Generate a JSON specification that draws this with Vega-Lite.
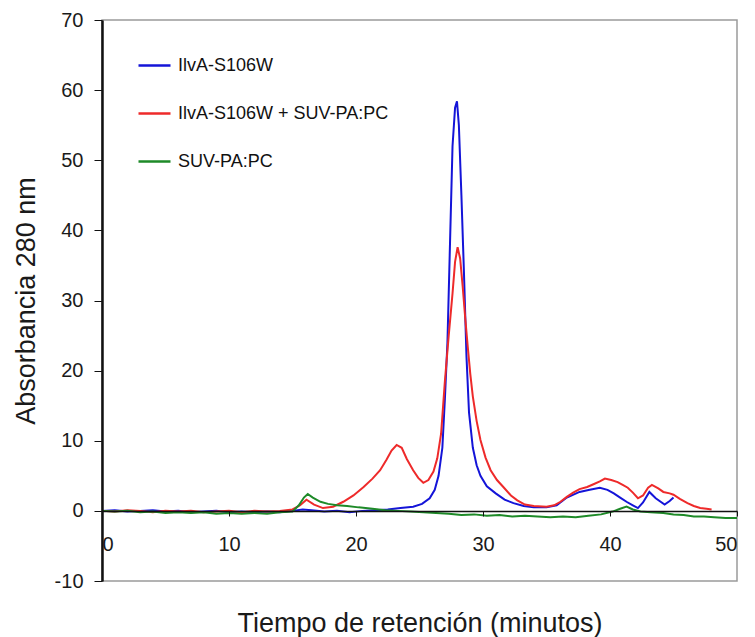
{
  "$schema": "https://vega.github.io/schema/vega-lite/v6.json",
  "width": 635,
  "height": 561,
  "autosize": {"type": "none"},
  "padding": {"left": 102, "top": 20, "right": 18, "bottom": 56},
  "background": "white",
  "config": {
    "font": "Liberation Sans",
    "view": {"stroke": "#9a9a9a", "strokeWidth": 1.5}
  },
  "data": {
    "values": [
      {"serie": "IlvA-S106W", "t": 0, "a": 0}, {"serie": "IlvA-S106W", "t": 1, "a": 0.1}, {"serie": "IlvA-S106W", "t": 2, "a": -0.1}, {"serie": "IlvA-S106W", "t": 3, "a": 0},
      {"serie": "IlvA-S106W", "t": 4, "a": 0.1}, {"serie": "IlvA-S106W", "t": 5, "a": -0.1}, {"serie": "IlvA-S106W", "t": 6, "a": 0}, {"serie": "IlvA-S106W", "t": 7, "a": -0.2},
      {"serie": "IlvA-S106W", "t": 8, "a": -0.1}, {"serie": "IlvA-S106W", "t": 9, "a": 0}, {"serie": "IlvA-S106W", "t": 10, "a": -0.2}, {"serie": "IlvA-S106W", "t": 11, "a": -0.1},
      {"serie": "IlvA-S106W", "t": 12, "a": -0.2}, {"serie": "IlvA-S106W", "t": 13, "a": -0.1}, {"serie": "IlvA-S106W", "t": 14, "a": -0.2}, {"serie": "IlvA-S106W", "t": 15, "a": 0},
      {"serie": "IlvA-S106W", "t": 15.8, "a": 0.2}, {"serie": "IlvA-S106W", "t": 16.5, "a": 0.1}, {"serie": "IlvA-S106W", "t": 17.5, "a": -0.1}, {"serie": "IlvA-S106W", "t": 18.5, "a": 0},
      {"serie": "IlvA-S106W", "t": 19.5, "a": -0.2}, {"serie": "IlvA-S106W", "t": 20.5, "a": 0}, {"serie": "IlvA-S106W", "t": 21.5, "a": 0.1}, {"serie": "IlvA-S106W", "t": 22.5, "a": 0.2},
      {"serie": "IlvA-S106W", "t": 23.5, "a": 0.4}, {"serie": "IlvA-S106W", "t": 24.5, "a": 0.6}, {"serie": "IlvA-S106W", "t": 25.2, "a": 1}, {"serie": "IlvA-S106W", "t": 25.8, "a": 1.8},
      {"serie": "IlvA-S106W", "t": 26.2, "a": 3}, {"serie": "IlvA-S106W", "t": 26.5, "a": 5}, {"serie": "IlvA-S106W", "t": 26.8, "a": 9}, {"serie": "IlvA-S106W", "t": 27.0, "a": 16},
      {"serie": "IlvA-S106W", "t": 27.2, "a": 24}, {"serie": "IlvA-S106W", "t": 27.4, "a": 38}, {"serie": "IlvA-S106W", "t": 27.6, "a": 52}, {"serie": "IlvA-S106W", "t": 27.8, "a": 57.5},
      {"serie": "IlvA-S106W", "t": 27.95, "a": 58.4}, {"serie": "IlvA-S106W", "t": 28.1, "a": 55}, {"serie": "IlvA-S106W", "t": 28.3, "a": 45}, {"serie": "IlvA-S106W", "t": 28.5, "a": 34},
      {"serie": "IlvA-S106W", "t": 28.7, "a": 22}, {"serie": "IlvA-S106W", "t": 28.9, "a": 14}, {"serie": "IlvA-S106W", "t": 29.2, "a": 9}, {"serie": "IlvA-S106W", "t": 29.5, "a": 6.5},
      {"serie": "IlvA-S106W", "t": 29.8, "a": 5}, {"serie": "IlvA-S106W", "t": 30.3, "a": 3.5}, {"serie": "IlvA-S106W", "t": 31, "a": 2.5}, {"serie": "IlvA-S106W", "t": 31.7, "a": 1.6},
      {"serie": "IlvA-S106W", "t": 32.4, "a": 1.1}, {"serie": "IlvA-S106W", "t": 33.2, "a": 0.7}, {"serie": "IlvA-S106W", "t": 34, "a": 0.5}, {"serie": "IlvA-S106W", "t": 35, "a": 0.5},
      {"serie": "IlvA-S106W", "t": 35.8, "a": 0.8}, {"serie": "IlvA-S106W", "t": 36.6, "a": 1.9}, {"serie": "IlvA-S106W", "t": 37.6, "a": 2.7}, {"serie": "IlvA-S106W", "t": 38.4, "a": 3},
      {"serie": "IlvA-S106W", "t": 39.2, "a": 3.3}, {"serie": "IlvA-S106W", "t": 39.8, "a": 3}, {"serie": "IlvA-S106W", "t": 40.3, "a": 2.5}, {"serie": "IlvA-S106W", "t": 40.8, "a": 1.9},
      {"serie": "IlvA-S106W", "t": 41.3, "a": 1.3}, {"serie": "IlvA-S106W", "t": 41.8, "a": 0.8}, {"serie": "IlvA-S106W", "t": 42.2, "a": 0.4}, {"serie": "IlvA-S106W", "t": 42.6, "a": 1.2},
      {"serie": "IlvA-S106W", "t": 43.1, "a": 2.7}, {"serie": "IlvA-S106W", "t": 43.6, "a": 1.8}, {"serie": "IlvA-S106W", "t": 44.3, "a": 0.9}, {"serie": "IlvA-S106W", "t": 44.7, "a": 1.4},
      {"serie": "IlvA-S106W", "t": 45.0, "a": 1.9},

      {"serie": "IlvA-S106W + SUV-PA:PC", "t": 0, "a": 0}, {"serie": "IlvA-S106W + SUV-PA:PC", "t": 1, "a": -0.1}, {"serie": "IlvA-S106W + SUV-PA:PC", "t": 2, "a": 0.1}, {"serie": "IlvA-S106W + SUV-PA:PC", "t": 3, "a": 0},
      {"serie": "IlvA-S106W + SUV-PA:PC", "t": 4, "a": -0.2}, {"serie": "IlvA-S106W + SUV-PA:PC", "t": 5, "a": 0}, {"serie": "IlvA-S106W + SUV-PA:PC", "t": 6, "a": -0.1}, {"serie": "IlvA-S106W + SUV-PA:PC", "t": 7, "a": 0},
      {"serie": "IlvA-S106W + SUV-PA:PC", "t": 8, "a": -0.2}, {"serie": "IlvA-S106W + SUV-PA:PC", "t": 9, "a": -0.1}, {"serie": "IlvA-S106W + SUV-PA:PC", "t": 10, "a": 0}, {"serie": "IlvA-S106W + SUV-PA:PC", "t": 11, "a": -0.2},
      {"serie": "IlvA-S106W + SUV-PA:PC", "t": 12, "a": 0}, {"serie": "IlvA-S106W + SUV-PA:PC", "t": 13, "a": -0.1}, {"serie": "IlvA-S106W + SUV-PA:PC", "t": 14, "a": 0}, {"serie": "IlvA-S106W + SUV-PA:PC", "t": 15, "a": 0.2},
      {"serie": "IlvA-S106W + SUV-PA:PC", "t": 15.6, "a": 0.8}, {"serie": "IlvA-S106W + SUV-PA:PC", "t": 16.1, "a": 1.6}, {"serie": "IlvA-S106W + SUV-PA:PC", "t": 16.7, "a": 0.9}, {"serie": "IlvA-S106W + SUV-PA:PC", "t": 17.4, "a": 0.4},
      {"serie": "IlvA-S106W + SUV-PA:PC", "t": 18.2, "a": 0.6}, {"serie": "IlvA-S106W + SUV-PA:PC", "t": 19, "a": 1.3}, {"serie": "IlvA-S106W + SUV-PA:PC", "t": 19.8, "a": 2.2}, {"serie": "IlvA-S106W + SUV-PA:PC", "t": 20.6, "a": 3.4},
      {"serie": "IlvA-S106W + SUV-PA:PC", "t": 21.3, "a": 4.6}, {"serie": "IlvA-S106W + SUV-PA:PC", "t": 21.9, "a": 5.8}, {"serie": "IlvA-S106W + SUV-PA:PC", "t": 22.4, "a": 7.3}, {"serie": "IlvA-S106W + SUV-PA:PC", "t": 22.8, "a": 8.6},
      {"serie": "IlvA-S106W + SUV-PA:PC", "t": 23.2, "a": 9.4}, {"serie": "IlvA-S106W + SUV-PA:PC", "t": 23.6, "a": 9}, {"serie": "IlvA-S106W + SUV-PA:PC", "t": 24.0, "a": 7.4}, {"serie": "IlvA-S106W + SUV-PA:PC", "t": 24.5, "a": 5.8},
      {"serie": "IlvA-S106W + SUV-PA:PC", "t": 24.9, "a": 4.7}, {"serie": "IlvA-S106W + SUV-PA:PC", "t": 25.3, "a": 4}, {"serie": "IlvA-S106W + SUV-PA:PC", "t": 25.7, "a": 4.4}, {"serie": "IlvA-S106W + SUV-PA:PC", "t": 26.1, "a": 5.6},
      {"serie": "IlvA-S106W + SUV-PA:PC", "t": 26.4, "a": 7.5}, {"serie": "IlvA-S106W + SUV-PA:PC", "t": 26.7, "a": 11}, {"serie": "IlvA-S106W + SUV-PA:PC", "t": 27.0, "a": 18.5}, {"serie": "IlvA-S106W + SUV-PA:PC", "t": 27.3, "a": 25},
      {"serie": "IlvA-S106W + SUV-PA:PC", "t": 27.6, "a": 31}, {"serie": "IlvA-S106W + SUV-PA:PC", "t": 27.8, "a": 35.5}, {"serie": "IlvA-S106W + SUV-PA:PC", "t": 28.0, "a": 37.6}, {"serie": "IlvA-S106W + SUV-PA:PC", "t": 28.2, "a": 36},
      {"serie": "IlvA-S106W + SUV-PA:PC", "t": 28.4, "a": 32}, {"serie": "IlvA-S106W + SUV-PA:PC", "t": 28.6, "a": 27.5}, {"serie": "IlvA-S106W + SUV-PA:PC", "t": 28.8, "a": 23.4}, {"serie": "IlvA-S106W + SUV-PA:PC", "t": 29.0, "a": 19.5},
      {"serie": "IlvA-S106W + SUV-PA:PC", "t": 29.2, "a": 16.3}, {"serie": "IlvA-S106W + SUV-PA:PC", "t": 29.5, "a": 12.8}, {"serie": "IlvA-S106W + SUV-PA:PC", "t": 29.8, "a": 10.1}, {"serie": "IlvA-S106W + SUV-PA:PC", "t": 30.2, "a": 7.6},
      {"serie": "IlvA-S106W + SUV-PA:PC", "t": 30.6, "a": 5.8}, {"serie": "IlvA-S106W + SUV-PA:PC", "t": 31.1, "a": 4.4}, {"serie": "IlvA-S106W + SUV-PA:PC", "t": 31.6, "a": 3.4}, {"serie": "IlvA-S106W + SUV-PA:PC", "t": 32.2, "a": 2.2},
      {"serie": "IlvA-S106W + SUV-PA:PC", "t": 32.7, "a": 1.5}, {"serie": "IlvA-S106W + SUV-PA:PC", "t": 33.3, "a": 0.9}, {"serie": "IlvA-S106W + SUV-PA:PC", "t": 34, "a": 0.7}, {"serie": "IlvA-S106W + SUV-PA:PC", "t": 35, "a": 0.6},
      {"serie": "IlvA-S106W + SUV-PA:PC", "t": 35.6, "a": 0.8}, {"serie": "IlvA-S106W + SUV-PA:PC", "t": 36.1, "a": 1.3}, {"serie": "IlvA-S106W + SUV-PA:PC", "t": 36.6, "a": 2}, {"serie": "IlvA-S106W + SUV-PA:PC", "t": 37.1, "a": 2.6},
      {"serie": "IlvA-S106W + SUV-PA:PC", "t": 37.6, "a": 3.1}, {"serie": "IlvA-S106W + SUV-PA:PC", "t": 38.2, "a": 3.4}, {"serie": "IlvA-S106W + SUV-PA:PC", "t": 38.7, "a": 3.8}, {"serie": "IlvA-S106W + SUV-PA:PC", "t": 39.2, "a": 4.2},
      {"serie": "IlvA-S106W + SUV-PA:PC", "t": 39.6, "a": 4.6}, {"serie": "IlvA-S106W + SUV-PA:PC", "t": 40.1, "a": 4.4}, {"serie": "IlvA-S106W + SUV-PA:PC", "t": 40.6, "a": 4.1}, {"serie": "IlvA-S106W + SUV-PA:PC", "t": 41.0, "a": 3.7},
      {"serie": "IlvA-S106W + SUV-PA:PC", "t": 41.4, "a": 3.3}, {"serie": "IlvA-S106W + SUV-PA:PC", "t": 41.8, "a": 2.6}, {"serie": "IlvA-S106W + SUV-PA:PC", "t": 42.2, "a": 1.8}, {"serie": "IlvA-S106W + SUV-PA:PC", "t": 42.6, "a": 2.2},
      {"serie": "IlvA-S106W + SUV-PA:PC", "t": 43.0, "a": 3.3}, {"serie": "IlvA-S106W + SUV-PA:PC", "t": 43.3, "a": 3.7}, {"serie": "IlvA-S106W + SUV-PA:PC", "t": 43.8, "a": 3.2}, {"serie": "IlvA-S106W + SUV-PA:PC", "t": 44.2, "a": 2.7},
      {"serie": "IlvA-S106W + SUV-PA:PC", "t": 44.7, "a": 2.5}, {"serie": "IlvA-S106W + SUV-PA:PC", "t": 45.0, "a": 2.3}, {"serie": "IlvA-S106W + SUV-PA:PC", "t": 45.5, "a": 1.7}, {"serie": "IlvA-S106W + SUV-PA:PC", "t": 46.1, "a": 1.1},
      {"serie": "IlvA-S106W + SUV-PA:PC", "t": 46.6, "a": 0.7}, {"serie": "IlvA-S106W + SUV-PA:PC", "t": 47.1, "a": 0.4}, {"serie": "IlvA-S106W + SUV-PA:PC", "t": 47.6, "a": 0.3}, {"serie": "IlvA-S106W + SUV-PA:PC", "t": 48.0, "a": 0.2},

      {"serie": "SUV-PA:PC", "t": 0, "a": 0}, {"serie": "SUV-PA:PC", "t": 1, "a": -0.1}, {"serie": "SUV-PA:PC", "t": 2, "a": 0}, {"serie": "SUV-PA:PC", "t": 3, "a": -0.2},
      {"serie": "SUV-PA:PC", "t": 4, "a": -0.1}, {"serie": "SUV-PA:PC", "t": 5, "a": -0.3}, {"serie": "SUV-PA:PC", "t": 6, "a": -0.2}, {"serie": "SUV-PA:PC", "t": 7, "a": -0.3},
      {"serie": "SUV-PA:PC", "t": 8, "a": -0.2}, {"serie": "SUV-PA:PC", "t": 9, "a": -0.4}, {"serie": "SUV-PA:PC", "t": 10, "a": -0.3}, {"serie": "SUV-PA:PC", "t": 11, "a": -0.4},
      {"serie": "SUV-PA:PC", "t": 12, "a": -0.3}, {"serie": "SUV-PA:PC", "t": 13, "a": -0.4}, {"serie": "SUV-PA:PC", "t": 14, "a": -0.2}, {"serie": "SUV-PA:PC", "t": 15, "a": -0.1},
      {"serie": "SUV-PA:PC", "t": 15.5, "a": 0.8}, {"serie": "SUV-PA:PC", "t": 15.9, "a": 1.9}, {"serie": "SUV-PA:PC", "t": 16.2, "a": 2.4}, {"serie": "SUV-PA:PC", "t": 16.6, "a": 1.9},
      {"serie": "SUV-PA:PC", "t": 17.2, "a": 1.3}, {"serie": "SUV-PA:PC", "t": 17.8, "a": 1}, {"serie": "SUV-PA:PC", "t": 18.5, "a": 0.8}, {"serie": "SUV-PA:PC", "t": 19.3, "a": 0.7},
      {"serie": "SUV-PA:PC", "t": 20.2, "a": 0.5}, {"serie": "SUV-PA:PC", "t": 21.3, "a": 0.3}, {"serie": "SUV-PA:PC", "t": 22.3, "a": 0.1}, {"serie": "SUV-PA:PC", "t": 23.3, "a": 0},
      {"serie": "SUV-PA:PC", "t": 24.3, "a": -0.1}, {"serie": "SUV-PA:PC", "t": 25.3, "a": -0.2}, {"serie": "SUV-PA:PC", "t": 26.3, "a": -0.3}, {"serie": "SUV-PA:PC", "t": 27.3, "a": -0.4},
      {"serie": "SUV-PA:PC", "t": 28.3, "a": -0.6}, {"serie": "SUV-PA:PC", "t": 29.3, "a": -0.5}, {"serie": "SUV-PA:PC", "t": 30.3, "a": -0.7}, {"serie": "SUV-PA:PC", "t": 31.3, "a": -0.6},
      {"serie": "SUV-PA:PC", "t": 32.3, "a": -0.8}, {"serie": "SUV-PA:PC", "t": 33.3, "a": -0.7}, {"serie": "SUV-PA:PC", "t": 34.3, "a": -0.8}, {"serie": "SUV-PA:PC", "t": 35.3, "a": -0.9},
      {"serie": "SUV-PA:PC", "t": 36.3, "a": -0.8}, {"serie": "SUV-PA:PC", "t": 37.3, "a": -0.9}, {"serie": "SUV-PA:PC", "t": 38.3, "a": -0.7}, {"serie": "SUV-PA:PC", "t": 39.3, "a": -0.5},
      {"serie": "SUV-PA:PC", "t": 40.2, "a": -0.1}, {"serie": "SUV-PA:PC", "t": 40.8, "a": 0.3}, {"serie": "SUV-PA:PC", "t": 41.3, "a": 0.6}, {"serie": "SUV-PA:PC", "t": 41.8, "a": 0.2},
      {"serie": "SUV-PA:PC", "t": 42.4, "a": -0.1}, {"serie": "SUV-PA:PC", "t": 43.2, "a": -0.2}, {"serie": "SUV-PA:PC", "t": 44.2, "a": -0.3}, {"serie": "SUV-PA:PC", "t": 45.0, "a": -0.5},
      {"serie": "SUV-PA:PC", "t": 45.8, "a": -0.6}, {"serie": "SUV-PA:PC", "t": 46.6, "a": -0.8}, {"serie": "SUV-PA:PC", "t": 47.4, "a": -0.8}, {"serie": "SUV-PA:PC", "t": 48.2, "a": -0.9},
      {"serie": "SUV-PA:PC", "t": 49.1, "a": -1}, {"serie": "SUV-PA:PC", "t": 50, "a": -1}
    ]
  },
  "mark": {"type": "line", "strokeWidth": 2, "interpolate": "linear"},
  "encoding": {
    "x": {
      "field": "t",
      "type": "quantitative",
      "scale": {"domain": [0, 50], "nice": false, "zero": false},
      "axis": {
        "title": "Tiempo de retención (minutos)",
        "titleFont": "Liberation Sans",
        "titleFontSize": 27,
        "titleFontWeight": "normal",
        "titleColor": "#1a1a1a",
        "titlePadding": 56,
        "values": [0, 10, 20, 30, 40, 50],
        "offset": -70,
        "zindex": 1,
        "grid": false,
        "domainColor": "#111111",
        "domainWidth": 1.5,
        "tickColor": "#111111",
        "tickSize": 5,
        "labelFontSize": 20,
        "labelColor": "#1a1a1a",
        "labelPadding": 18
      }
    },
    "y": {
      "field": "a",
      "type": "quantitative",
      "scale": {"domain": [-10, 70], "nice": false, "zero": false},
      "axis": {
        "title": "Absorbancia 280 nm",
        "titleFont": "Liberation Sans",
        "titleFontSize": 27,
        "titleFontWeight": "normal",
        "titleColor": "#1a1a1a",
        "titlePadding": 14,
        "values": [-10, 0, 10, 20, 30, 40, 50, 60, 70],
        "labelExpr": "replace(datum.label, '\u2212', '-')",
        "zindex": 1,
        "grid": false,
        "domainColor": "#111111",
        "domainWidth": 2.5,
        "tickColor": "#111111",
        "tickSize": 8,
        "labelFontSize": 20,
        "labelColor": "#1a1a1a",
        "labelPadding": 11
      }
    },
    "color": {
      "field": "serie",
      "type": "nominal",
      "sort": ["IlvA-S106W", "IlvA-S106W + SUV-PA:PC", "SUV-PA:PC"],
      "scale": {
        "domain": ["IlvA-S106W", "IlvA-S106W + SUV-PA:PC", "SUV-PA:PC"],
        "range": ["#1414d8", "#ee2a2a", "#1e8a28"]
      },
      "legend": {
        "title": null,
        "orient": "none",
        "legendX": 35,
        "legendY": 28,
        "symbolType": "stroke",
        "symbolSize": 1024,
        "symbolStrokeWidth": 2.5,
        "labelFont": "Liberation Sans",
        "labelFontSize": 18,
        "labelLimit": 500,
        "labelColor": "#111111",
        "labelOffset": 6,
        "rowPadding": 21
      }
    }
  }
}
